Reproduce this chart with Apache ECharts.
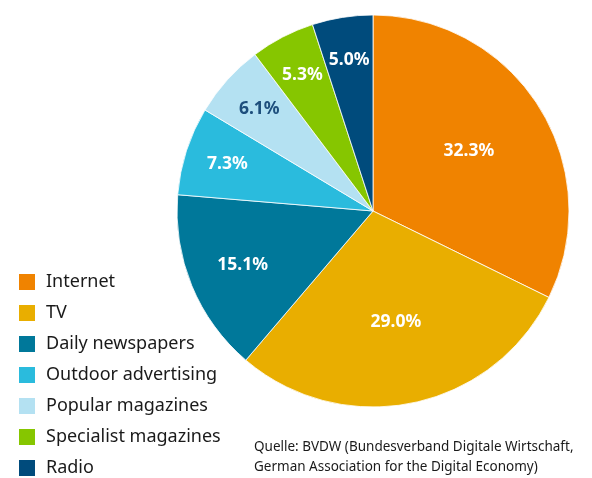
<!DOCTYPE html>
<html>
<head>
<meta charset="utf-8">
<script src="https://cdn.jsdelivr.net/npm/echarts@6/dist/echarts.min.js"></script>
<style>
  html, body { margin: 0; padding: 0; background: #fff; }
  #chart { width: 592px; height: 478px; }
</style>
</head>
<body>
<div id="chart"></div>
<script>
// Advertising spend share by medium (%)
const categories = ['Internet', 'TV', 'Daily newspapers', 'Outdoor advertising', 'Popular magazines', 'Specialist magazines', 'Radio'];
const shares = [32.3, 29.0, 15.1, 7.3, 6.1, 5.3, 5.0];
const sourceLines = ['Quelle: BVDW (Bundesverband Digitale Wirtschaft,', 'German Association for the Digital Economy)'];

const colors = ['#F08300', '#E9AE00', '#00789A', '#2ABBDD', '#B4E1F2', '#86C600', '#004B7C'];
const labelColors = ['#fff', '#fff', '#fff', '#fff', '#1D4E7C', '#fff', '#fff'];

const FONT = '"Noto Sans", "Open Sans", sans-serif';
const CENTER = [373, 211];
const R = 196;

const pieData = categories.map((name, i) => ({
  name,
  value: shares[i],
  itemStyle: { color: colors[i] }
}));

// Transparent overlay rings used only to place the percentage labels;
// the inner radius moves the 'inside' label outward for thinner slices.
function labelRing(id, r0, test) {
  return {
    type: 'pie',
    id,
    center: CENTER,
    radius: [r0, R],
    startAngle: 90,
    silent: true,
    animation: false,
    avoidLabelOverlap: false,
    legendHoverLink: false,
    z: 5,
    itemStyle: { color: 'rgba(0,0,0,0)', borderWidth: 0 },
    emphasis: { disabled: true },
    labelLine: { show: false },
    label: {
      show: true,
      position: 'inside',
      fontFamily: FONT,
      fontWeight: 'bold',
      fontSize: 17.5,
      formatter: p => test(p.value) ? p.value.toFixed(1) + '%' : ''
    },
    data: categories.map((name, i) => ({
      name: name + ' ',
      value: shares[i],
      label: { color: labelColors[i] }
    }))
  };
}

const chart = echarts.init(document.getElementById('chart'), null, { renderer: 'canvas' });
chart.setOption({
  backgroundColor: '#fff',
  animation: false,
  legend: {
    orient: 'vertical',
    left: 17,
    top: 272,
    height: 240,
    padding: 0,
    itemWidth: 18,
    itemHeight: 18,
    itemGap: 11,
    icon: 'rect',
    data: categories,
    textStyle: { fontFamily: FONT, fontSize: 18, color: '#1a1a1a', padding: [0, 0, 0, 5] }
  },
  graphic: [{
    type: 'text',
    left: 254,
    top: 437,
    style: {
      text: sourceLines.join('\n'),
      fontFamily: FONT,
      fontSize: 13.5,
      lineHeight: 20,
      fill: '#1a1a1a'
    }
  }],
  series: [
    {
      type: 'pie',
      id: 'share',
      center: CENTER,
      radius: [0, R],
      startAngle: 90,
      clockwise: true,
      avoidLabelOverlap: false,
      itemStyle: { borderColor: '#fff', borderWidth: 0.8 },
      label: { show: false },
      labelLine: { show: false },
      data: pieData
    },
    labelRing('labelsLarge', 24, v => v >= 20),
    labelRing('labelsMid', 80, v => v >= 10 && v < 20),
    labelRing('labelsSmall', 104, v => v < 10)
  ]
});
</script>
</body>
</html>
